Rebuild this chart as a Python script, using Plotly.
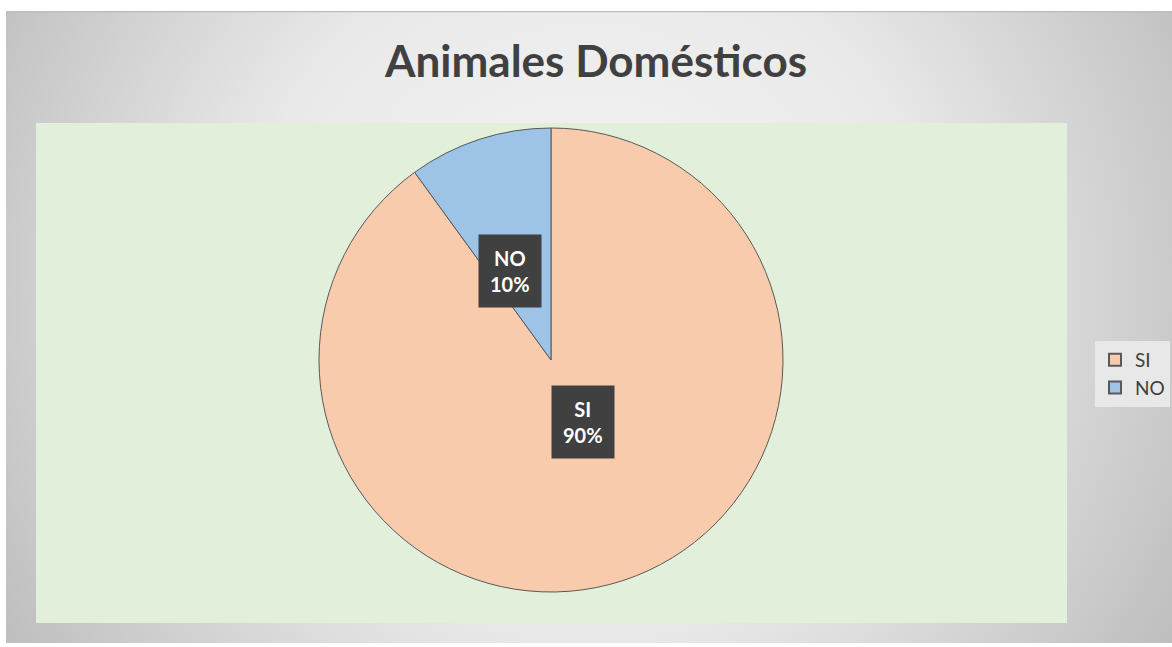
import base64
import numpy as np
import plotly.graph_objects as go

# ---- data ----
categories = ["SI", "NO"]
values = [90, 10]
colors = ["#f8cbad", "#9dc3e6"]
title_text = "Animales Domésticos"

W, H = 1172, 647
ml, mr, mt, mb = 36, 105, 123, 24
pw, ph = W - ml - mr, H - mt - mb

# pie geometry (paper coords of the plot area)
cx_px, cy_px, r_px = 551, 360, 232
cx = (cx_px - ml) / pw
cy = (H - mb - cy_px) / ph
dom_x = [(cx_px - r_px - ml) / pw, (cx_px + r_px - ml) / pw]
dom_y = [cy - r_px / ph, cy + r_px / ph]

FONT = "Lato, 'Open Sans', sans-serif"

fig = go.Figure()
fig.add_trace(go.Pie(
    labels=categories, values=values, sort=False, direction="clockwise",
    rotation=0, marker=dict(colors=colors, line=dict(color="#595959", width=1)),
    textinfo="none", hoverinfo="label+percent",
    domain=dict(x=dom_x, y=dom_y),
))

# labels placed from the data (mid-angle of each slice)
total = sum(values)
cum = np.cumsum([0] + values[:-1])
fracs = [0.45, 0.57]
annotations = []
for lab, v, c0, f in zip(categories, values, cum, fracs):
    mid = (c0 + v / 2) / total * 2 * np.pi
    ax = cx + f * r_px * np.sin(mid) / pw
    ay = cy + f * r_px * np.cos(mid) / ph
    annotations.append(dict(
        x=ax, y=ay, xref="paper", yref="paper", showarrow=False,
        text=f"<b>{lab}<br>{round(v / total * 100)}%</b>",
        font=dict(family=FONT, size=20, color="white"),
        bgcolor="#404040", borderpad=11, align="center",
    ))

# gradient background via inline svg
bx0, bx1 = 6, W
by0, by1 = 11, 643
bw, bh = bx1 - bx0, by1 - by0
svg = (f'<svg xmlns="http://www.w3.org/2000/svg" width="{bw}" height="{bh}" viewBox="0 0 {bw} {bh}">'
       f'<defs><radialGradient id="g" gradientUnits="userSpaceOnUse" cx="{bw/2}" cy="{bh/2 - 40}" r="690">'
       '<stop offset="0" stop-color="#f6f6f6"/><stop offset="0.5" stop-color="#e9e9e9"/>'
       '<stop offset="1" stop-color="#bdbdbd"/></radialGradient></defs>'
       f'<rect width="{bw}" height="{bh}" fill="url(#g)"/>'
       f'<line x1="0" y1="0.5" x2="{bw}" y2="0.5" stroke="#bdbdbd" stroke-width="1.5"/></svg>')
src = "data:image/svg+xml;base64," + base64.b64encode(svg.encode()).decode()
images = [dict(source=src, xref="paper", yref="paper",
               x=(bx0 - ml) / pw, y=(H - mb - by0) / ph,
               sizex=bw / pw, sizey=bh / ph,
               sizing="stretch", layer="below", xanchor="left", yanchor="top")]

shapes = [
    dict(type="rect", xref="paper", yref="paper", x0=0, x1=1, y0=0, y1=1,
         fillcolor="#e2efda", line=dict(width=0), layer="below"),
]

fig.update_layout(
    width=W, height=H, autosize=False,
    margin=dict(l=ml, r=mr, t=mt, b=mb, autoexpand=False),
    paper_bgcolor="white", plot_bgcolor="rgba(0,0,0,0)",
    title=dict(text=f"<b>{title_text}</b>", x=596 / W, xanchor="center",
               y=1 - 62 / H, yanchor="middle",
               font=dict(family=FONT, size=44, color="#404040")),
    legend=dict(xref="container", yref="container",
                x=1095 / W, xanchor="left", y=1 - 374 / H, yanchor="middle",
                bgcolor="#e8e8e8", font=dict(family=FONT, size=19, color="#404040"),
                itemsizing="constant"),
    annotations=annotations, shapes=shapes, images=images,
    showlegend=True,
)

post = ("document.documentElement.style.overflow='hidden';"
        "document.body.style.margin='0px';document.body.style.overflow='hidden';")

fig.write_html("out.html",
               config={"responsive": False, "displayModeBar": False},
               default_width=f"{W}px", default_height=f"{H}px",
               post_script=post)
